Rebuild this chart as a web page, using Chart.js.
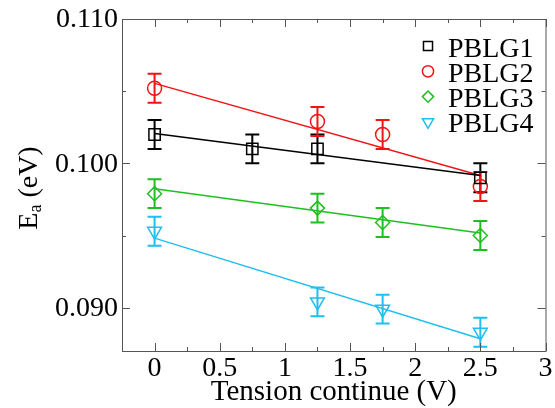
<!DOCTYPE html>
<html>
<head>
<meta charset="utf-8">
<script src="https://cdn.jsdelivr.net/npm/chart.js@4/dist/chart.umd.min.js"></script>
<style>
  html, body { margin: 0; padding: 0; background: #fff; }
</style>
</head>
<body>
<canvas id="chart" width="555" height="408"></canvas>
<script>
// Données
const seriesNames = ['PBLG1', 'PBLG2', 'PBLG3', 'PBLG4'];

const pblg1X = [0, 0.75, 1.25, 2.5];
const pblg1Y = [0.1020, 0.1010, 0.1010, 0.0990];
const pblg2X = [0, 1.25, 1.75, 2.5];
const pblg2Y = [0.1052, 0.1029, 0.1020, 0.0984];
const pblg3X = [0, 1.25, 1.75, 2.5];
const pblg3Y = [0.0979, 0.0969, 0.0959, 0.0950];
const pblg4X = [0, 1.25, 1.75, 2.5];
const pblg4Y = [0.0953, 0.0904, 0.0899, 0.0883];
const errY = [0.001, 0.001, 0.001, 0.001];

// Droites d'ajustement (extrémités)
const fitX = [0, 2.5];
const fit1Y = [0.10207, 0.09915];
const fit2Y = [0.10554, 0.09916];
const fit3Y = [0.09824, 0.09517];
const fit4Y = [0.09482, 0.08785];

// Graduations
const xTicks = [0, 0.5, 1, 1.5, 2, 2.5, 3];
const xTickLabels = ['0', '0.5', '1', '1.5', '2', '2.5', '3'];
const xMinorTicks = [-0.25, 0.25, 0.75, 1.25, 1.75, 2.25, 2.75];
const yTicks = [0.090, 0.100, 0.110];
const yTickLabels = ['0.090', '0.100', '0.110'];
const yMinorTicks = [0.095, 0.105];

const COLORS = ['#000000', '#f01414', '#1fbf1f', '#1fbfef'];
const STYLES = [
    { pointStyle: 'rect', radius: 8, rotation: 0 },
    { pointStyle: 'circle', radius: 7, rotation: 0 },
    { pointStyle: 'rectRot', radius: 7, rotation: 0 },
    { pointStyle: 'triangle', radius: 8, rotation: 180 }
];
const serif = size => size + 'px "Liberation Serif"';

const toPoints = (xs, ys) => xs.map((x, i) => ({ x, y: ys[i] }));

const markerSet = (i, xs, ys) => ({
    type: 'scatter',
    label: seriesNames[i],
    data: toPoints(xs, ys),
    errors: errY,
    showLine: false,
    borderColor: COLORS[i],
    backgroundColor: 'rgba(0,0,0,0)',
    pointStyle: STYLES[i].pointStyle,
    pointRadius: STYLES[i].radius,
    pointRotation: STYLES[i].rotation,
    pointBorderWidth: 1.5,
    order: 1
});

const fitSet = (i, ys) => ({
    type: 'line',
    label: 'fit ' + seriesNames[i],
    data: toPoints(fitX, ys),
    borderColor: COLORS[i],
    borderWidth: 1.5,
    pointRadius: 0,
    fill: false,
    order: 2
});

// Barres d'erreur verticales
const errorBars = {
    id: 'errorBars',
    beforeDatasetsDraw(chart) {
        const { ctx, scales: { x, y } } = chart;
        chart.data.datasets.forEach(ds => {
            if (!ds.errors) return;
            ctx.save();
            ctx.strokeStyle = ds.borderColor;
            ctx.lineWidth = 2;
            ds.data.forEach((p, i) => {
                const px = x.getPixelForValue(p.x);
                const top = y.getPixelForValue(p.y + ds.errors[i]);
                const bot = y.getPixelForValue(p.y - ds.errors[i]);
                ctx.beginPath();
                ctx.moveTo(px, top); ctx.lineTo(px, bot);
                ctx.moveTo(px - 7, top); ctx.lineTo(px + 7, top);
                ctx.moveTo(px - 7, bot); ctx.lineTo(px + 7, bot);
                ctx.stroke();
            });
            ctx.restore();
        });
    }
};

// Cadre, graduations internes, étiquettes, titres et légende (style xmgrace)
const frame = {
    id: 'frame',
    afterDraw(chart) {
        const { ctx, chartArea: a, scales: { x, y } } = chart;
        ctx.save();
        ctx.strokeStyle = '#555';
        ctx.lineWidth = 1;
        ctx.strokeRect(a.left + 0.5, a.top + 0.5, a.right - a.left, a.bottom - a.top);

        const tickX = (v, len) => {
            const px = Math.round(x.getPixelForValue(v)) + 0.5;
            ctx.moveTo(px, a.bottom); ctx.lineTo(px, a.bottom - len);
            ctx.moveTo(px, a.top); ctx.lineTo(px, a.top + len);
        };
        const tickY = (v, len) => {
            const py = Math.round(y.getPixelForValue(v)) + 0.5;
            ctx.moveTo(a.left, py); ctx.lineTo(a.left + len, py);
            ctx.moveTo(a.right, py); ctx.lineTo(a.right - len, py);
        };
        ctx.beginPath();
        xTicks.forEach(v => tickX(v, 8));
        xMinorTicks.forEach(v => tickX(v, 4));
        yTicks.forEach(v => tickY(v, 8));
        yMinorTicks.forEach(v => tickY(v, 4));
        ctx.stroke();

        ctx.fillStyle = '#000';
        ctx.font = serif(28);
        ctx.textAlign = 'center';
        ctx.textBaseline = 'alphabetic';
        xTicks.forEach((v, i) => ctx.fillText(xTickLabels[i], x.getPixelForValue(v), 376));
        ctx.textAlign = 'right';
        ctx.textBaseline = 'middle';
        yTicks.forEach((v, i) => ctx.fillText(yTickLabels[i], a.left - 4, y.getPixelForValue(v) + 1));

        // Titre de l'axe X
        ctx.textAlign = 'center';
        ctx.textBaseline = 'alphabetic';
        ctx.font = serif(29);
        ctx.fillText('Tension continue (V)', (a.left + a.right) / 2, 400);

        // Titre de l'axe Y avec indice
        ctx.save();
        ctx.translate(37, 188);
        ctx.rotate(-Math.PI / 2);
        ctx.textAlign = 'left';
        ctx.font = serif(28);
        const wE = ctx.measureText('E').width;
        ctx.font = serif(18);
        const wA = ctx.measureText('a').width;
        ctx.font = serif(28);
        const wRest = ctx.measureText(' (eV)').width;
        let cx = -(wE + wA + wRest) / 2;
        ctx.fillText('E', cx, 0); cx += wE;
        ctx.font = serif(18);
        ctx.fillText('a', cx, 4); cx += wA;
        ctx.font = serif(28);
        ctx.fillText(' (eV)', cx, 0);
        ctx.restore();

        // Légende
        ctx.font = serif(28);
        ctx.textAlign = 'left';
        ctx.textBaseline = 'alphabetic';
        seriesNames.forEach((name, i) => {
            const rowY = 46 + i * 25.3;
            ctx.strokeStyle = COLORS[i];
            ctx.fillStyle = 'rgba(0,0,0,0)';
            ctx.lineWidth = 1.5;
            Chart.helpers.drawPoint(ctx, {
                pointStyle: STYLES[i].pointStyle,
                radius: STYLES[i].radius * 0.8,
                rotation: STYLES[i].rotation,
                borderWidth: 1.5
            }, 428, rowY);
            ctx.fillStyle = '#000';
            ctx.fillText(name, 448, rowY + 10.5);
        });
        ctx.restore();
    }
};

new Chart(document.getElementById('chart'), {
    type: 'scatter',
    data: {
        datasets: [
            markerSet(0, pblg1X, pblg1Y),
            markerSet(1, pblg2X, pblg2Y),
            markerSet(2, pblg3X, pblg3Y),
            markerSet(3, pblg4X, pblg4Y),
            fitSet(0, fit1Y),
            fitSet(1, fit2Y),
            fitSet(2, fit3Y),
            fitSet(3, fit4Y)
        ]
    },
    options: {
        responsive: false,
        animation: false,
        layout: { padding: { left: 122, top: 19, right: 5, bottom: 57 } },
        plugins: { legend: { display: false }, tooltip: { enabled: false } },
        scales: {
            x: { type: 'linear', min: -0.25, max: 3, display: false },
            y: { type: 'linear', min: 0.087, max: 0.110, display: false }
        }
    },
    plugins: [errorBars, frame]
});
</script>
</body>
</html>
